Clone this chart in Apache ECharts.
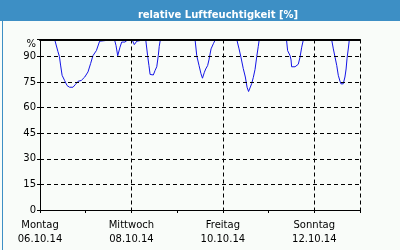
<!DOCTYPE html>
<html>
<head>
<meta charset="utf-8">
<script src="https://cdn.jsdelivr.net/npm/echarts@6/dist/echarts.min.js"></script>
<style>html,body{margin:0;padding:0;background:#f9fcf9;}#c{width:400px;height:250px;}</style>
</head>
<body>
<div id="c"></div>
<script>
// hours since Montag 06.10.14 00:00
const hours = [0, 7.7,
  9.4, 10.2, 10.8, 11.6, 12.9, 14.2, 15.5, 16.4, 17.3, 18.5, 20.0, 21.7, 23.5, 25.2, 26.6, 27.8, 29.6, 31.3, 31.8,
  39.1, 39.9, 40.8, 41.5, 42.0, 42.9, 43.7, 44.6, 45.7, 46.4, 47.3, 48.5, 49.5, 50.8, 51.6,
  55.5, 56.5, 57.2, 57.8, 59.5, 60.4, 61.3, 62.1, 62.6, 63.2,
  81.4, 82.3, 83.5, 84.5, 85.3, 86.3, 87.0, 88.0, 88.7, 89.8, 91.0, 92.1,
  103.3, 104.5, 105.5, 106.7, 107.8, 108.7, 109.5, 110.3, 111.1, 112.0, 112.9, 113.8, 114.6, 115.1,
  129.4, 130.0, 131.3, 131.8, 132.1, 133.9, 134.8, 135.6, 136.5, 137.4, 138.3,
  153.1, 154.0, 154.9, 155.8, 156.6, 157.5, 158.0, 159.2, 160.1, 160.7, 161.2, 161.9, 162.4, 168];
const humidity = [100, 100,
  93, 90, 85, 79, 76, 73, 72, 73, 72, 73.5, 75.5, 76, 78, 81, 86, 90.5, 93.5, 99, 100,
  100, 96.5, 90.5, 90.5, 95.5, 98.5, 99.5, 98.5, 99.5, 98.5, 100, 99.5, 97, 99, 100,
  100, 90.5, 84.7, 79.5, 79.2, 81.8, 84, 90.5, 96, 100,
  100, 90.5, 84.7, 80, 77.3, 80.8, 82.7, 84.7, 88, 94.5, 97.5, 100,
  100, 94.5, 89.6, 83, 78, 72, 69.5, 70, 74, 77.8, 82.5, 90, 96, 100,
  100, 93.5, 90.5, 88, 84, 84, 84.5, 85.5, 89.6, 95.5, 100,
  100, 94.5, 89.6, 84.7, 79, 75.5, 74, 74, 78, 82.7, 89, 95, 100, 100];
const dayNames = ['Montag', 'Dienstag', 'Mittwoch', 'Donnerstag', 'Freitag', 'Samstag', 'Sonntag', 'Montag'];
const dayDates = ['06.10.14', '07.10.14', '08.10.14', '09.10.14', '10.10.14', '11.10.14', '12.10.14', '13.10.14'];
const yTicks = [0, 15, 30, 45, 60, 75, 90];
const titleText = 'relative Luftfeuchtigkeit [%]';

const font = 'DejaVu Sans';
const chart = echarts.init(document.getElementById('c'), null, {renderer: 'canvas'});
const dash = [4, 3];
chart.setOption({
  animation: false,
  backgroundColor: '#f9fcf9',
  title: {
    text: titleText, left: 213, top: 4, textAlign: 'center',
    textStyle: {color: '#ffffff', fontFamily: font, fontWeight: 'bold', fontSize: 10, lineHeight: 13}
  },
  graphic: [
    {type: 'rect', left: 0, top: 0, z: -10, shape: {width: 400, height: 21}, style: {fill: '#3d8fc5'}},
    {type: 'rect', left: 0, top: 0, z: 100, shape: {x: 0.5, y: 0.5, width: 399, height: 249}, style: {fill: null, stroke: '#3d8fc5', lineWidth: 1}}
  ],
  grid: {left: 40, right: 40, top: 39.5, bottom: 40, containLabel: false},
  xAxis: [
    {type: 'value', min: 0, max: 168, interval: 24, position: 'bottom',
     axisLine: {show: true, lineStyle: {color: '#000', width: 1}},
     axisTick: {show: true, inside: false, length: 3, lineStyle: {color: '#000'}},
     axisLabel: {show: false}, splitLine: {show: false}},
    {type: 'value', min: 0, max: 168, interval: 48, position: 'bottom', offset: 0,
     axisLine: {show: false}, axisTick: {show: false},
     axisLabel: {show: true, color: '#000', fontFamily: font, fontSize: 10, lineHeight: 14, margin: 8,
       showMaxLabel: false,
       formatter: v => (v % 48 === 0) ? dayNames[v / 24] + '\n' + dayDates[v / 24] : ''},
     splitLine: {show: true, lineStyle: {color: '#000', type: dash, width: 1}}},
    {type: 'value', min: 0, max: 168, position: 'top', z: 10,
     axisLine: {show: true, lineStyle: {color: '#000', width: 2}},
     axisTick: {show: false}, axisLabel: {show: false}, splitLine: {show: false}}
  ],
  yAxis: [
    {type: 'value', min: 0, max: 100, interval: 15, position: 'left', z: 10,
     name: '%', nameLocation: 'end', nameGap: -5,
     nameTextStyle: {color: '#000', fontFamily: font, fontSize: 10, align: 'right', verticalAlign: 'middle', padding: [0, 4, 0, 0]},
     axisLine: {show: true, lineStyle: {color: '#000', width: 1}},
     axisTick: {show: true, length: 3, lineStyle: {color: '#000'}},
     axisLabel: {color: '#000', fontFamily: font, fontSize: 10, margin: 4,
       formatter: v => yTicks.indexOf(v) >= 0 ? String(v) : ''},
     splitLine: {show: true, lineStyle: {color: '#000', type: dash, width: 1}}},
    {type: 'value', min: 0, max: 100, position: 'right', z: 10,
     axisLine: {show: true, lineStyle: {color: '#000', width: 1}},
     axisTick: {show: false}, axisLabel: {show: false}, splitLine: {show: false}}
  ],
  series: [{
    type: 'line', xAxisIndex: 0, yAxisIndex: 0, showSymbol: false, symbol: 'none',
    clip: true, z: 2,
    lineStyle: {color: '#1414e6', width: 1},
    data: hours.map((h, i) => [h, humidity[i]])
  }]
});
</script>
</body>
</html>
